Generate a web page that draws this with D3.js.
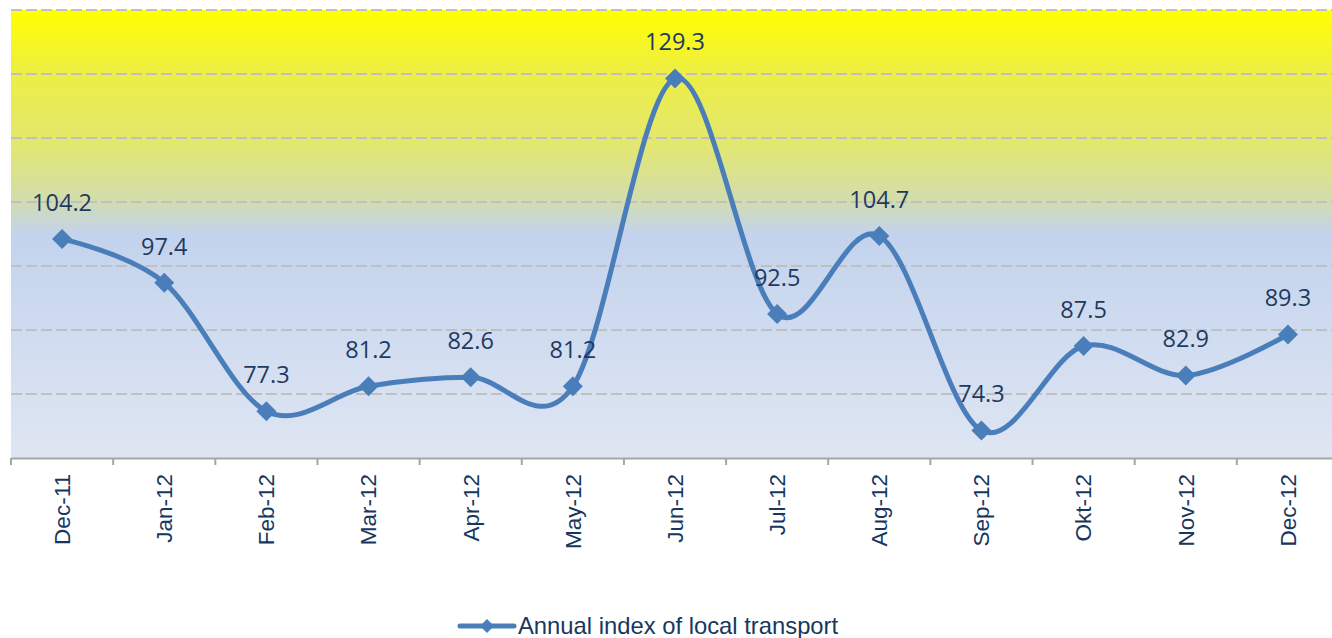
<!DOCTYPE html>
<html><head><meta charset="utf-8">
<script src="https://cdn.jsdelivr.net/npm/d3@7"></script>
<style>html,body{margin:0;padding:0;background:#fff;overflow:hidden}</style>
</head><body><svg id="c" width="1332" height="638"></svg>
<script>
const categories = ["Dec-11","Jan-12","Feb-12","Mar-12","Apr-12","May-12","Jun-12","Jul-12","Aug-12","Sep-12","Okt-12","Nov-12","Dec-12"];
const values = [104.2,97.4,77.3,81.2,82.6,81.2,129.3,92.5,104.7,74.3,87.5,82.9,89.3];
const yTicks = [70,80,90,100,110,120,130,140];
const seriesName = "Annual index of local transport";

const svg = d3.select("#c");
const pL = 11, pR = 1339, pT = 10, pB = 458;
const x = d3.scaleBand().domain(categories).range([pL, pR]).padding(0);
const y = d3.scaleLinear().domain([70,140]).range([pB, pT]);

const defs = svg.append("defs");
const g = defs.append("linearGradient").attr("id","bg").attr("x1",0).attr("y1",0).attr("x2",0).attr("y2",1);
[[0,"#ffff00"],[0.14,"#eeee44"],[0.29,"#e3e86c"],[0.42,"#d3ddaa"],[0.5,"#c3d3ed"],[1,"#dfe6f3"]]
  .forEach(([o,c])=>g.append("stop").attr("offset",o).attr("stop-color",c));
svg.append("rect").attr("x",pL).attr("y",pT).attr("width",pR-pL).attr("height",pB-pT).attr("fill","url(#bg)");

// gridlines
svg.append("g").selectAll("line").data(yTicks.filter(t=>t>70)).join("line")
  .attr("x1",pL).attr("x2",pR).attr("y1",d=>y(d)).attr("y2",d=>y(d))
  .attr("stroke","#c0c0c0").attr("stroke-width",2).attr("stroke-dasharray","11,4");

// x axis
const xAxis = d3.axisBottom(x).tickSize(0).tickPadding(0);
const ax = svg.append("g").attr("transform",`translate(0,${pB})`).call(xAxis);
ax.select(".domain").attr("stroke","#a6a6a6").attr("stroke-width",2);
ax.selectAll(".tick text")
  .attr("transform","rotate(-90)").attr("text-anchor","end").attr("dy","0.35em")
  .attr("x",-16).attr("y",0)
  .attr("fill","#17375e").style("font-family","'Liberation Sans',Arial,sans-serif").style("font-size","22.5px");
// tick marks between categories
svg.append("g").selectAll("line").data(d3.range(categories.length+1)).join("line")
  .attr("x1",i=>pL+x.bandwidth()*i).attr("x2",i=>pL+x.bandwidth()*i)
  .attr("y1",pB).attr("y2",pB+7).attr("stroke","#a6a6a6").attr("stroke-width",2);

const cx = d => x(d) + x.bandwidth()/2;
const line = d3.line().x((d,i)=>cx(categories[i])).y(d=>y(d)).curve(d3.curveCardinal.tension(0));
svg.append("path").datum(values).attr("d",line).attr("fill","none")
  .attr("stroke","#4a7ebb").attr("stroke-width",5).attr("stroke-linejoin","round");

const diamond = s => `M0,${-s}L${s},0L0,${s}L${-s},0Z`;
svg.append("g").selectAll("path").data(values).join("path")
  .attr("transform",(d,i)=>`translate(${cx(categories[i])},${y(d)})`)
  .attr("d",diamond(10)).attr("fill","#4a7ebb");

svg.append("g").selectAll("text").data(values).join("text")
  .attr("x",(d,i)=>cx(categories[i])).attr("y",d=>y(d)-28)
  .attr("text-anchor","middle").attr("fill","#1f3a60")
  .style("font-family","'Open Sans','Noto Sans',sans-serif").style("font-size","23.5px")
  .text(d=>d.toFixed(1));

// legend
const lg = svg.append("g").attr("transform","translate(0,626)");
lg.append("line").attr("x1",460).attr("x2",514).attr("y1",0).attr("y2",0)
  .attr("stroke","#4a7ebb").attr("stroke-width",5).attr("stroke-linecap","round");
lg.append("path").attr("transform","translate(487,0)").attr("d",diamond(7)).attr("fill","#4a7ebb");
lg.append("text").attr("x",518).attr("y",8).attr("fill","#17375e")
  .style("font-family","'Liberation Sans',Arial,sans-serif").style("font-size","23.8px").text(seriesName);
</script></body></html>
